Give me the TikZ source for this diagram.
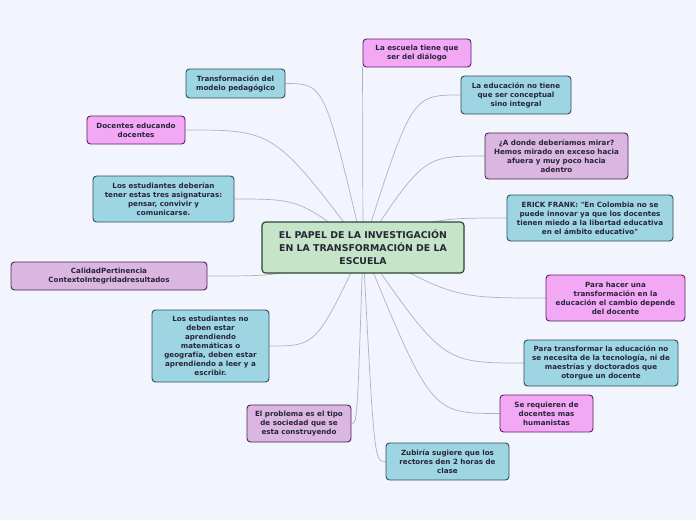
\documentclass[tikz,border=0pt]{standalone}
\usepackage{fontspec}
\newfontfamily\mapfont{DejaVu Sans}
\usetikzlibrary{backgrounds,calc}
\definecolor{pagebg}{HTML}{F2F5FD}
\definecolor{bluefill}{HTML}{9ED5E2}
\definecolor{blueline}{HTML}{2F4F5C}
\definecolor{pinkfill}{HTML}{F3A8F6}
\definecolor{pinkline}{HTML}{5E1F62}
\definecolor{lilacfill}{HTML}{DAB6E0}
\definecolor{lilacline}{HTML}{4A2552}
\definecolor{rootfill}{HTML}{C6E5C8}
\definecolor{rootline}{HTML}{2C442E}
\definecolor{linkgray}{HTML}{B2B2BC}
\definecolor{inkdark}{HTML}{262638}
\newlength\pxu
\setlength\pxu{0.03cm}
\begin{document}
\begin{tikzpicture}[x=0.03cm,y=-0.03cm,
  every node/.style={font=\mapfont\bfseries\fontsize{6.1}{7.7}\selectfont,text=inkdark,align=center,inner sep=1pt},
  topic/.style={draw,line width=0.8pt,rounded corners=3pt},
  bluebox/.style={topic,fill=bluefill,draw=blueline},
  pinkbox/.style={topic,fill=pinkfill,draw=pinkline},
  lilacbox/.style={topic,fill=lilacfill,draw=lilacline},
  link/.style={draw=linkgray,line width=0.6pt}]
\node[topic,fill=rootfill,draw=rootline,line width=1pt,minimum width=202\pxu,minimum height=51\pxu,
  font=\mapfont\bfseries\fontsize{8}{11}\selectfont] (root) at (363,247.5)
  {EL PAPEL DE LA INVESTIGACIÓN\\EN LA TRANSFORMACIÓN DE LA\\ESCUELA};
\node[pinkbox,minimum width=108\pxu,minimum height=28\pxu] (escuela) at (417,53) {La escuela tiene que\\ser del diálogo};
\node[bluebox,minimum width=99\pxu,minimum height=29\pxu] (modelo) at (235.5,83.5) {Transformación del\\modelo pedagógico};
\node[bluebox,minimum width=110\pxu,minimum height=38\pxu] (integral) at (516,95) {La educación no tiene\\que ser conceptual\\sino integral};
\node[pinkbox,minimum width=98\pxu,minimum height=28\pxu] (docentes) at (136,130) {Docentes educando\\docentes};
\node[lilacbox,minimum width=143\pxu,minimum height=46\pxu] (mirar) at (556.5,156) {¿A donde deberíamos mirar?\\Hemos mirado en exceso hacia\\afuera y muy poco hacia\\adentro};
\node[bluebox,minimum width=141\pxu,minimum height=46\pxu] (asignaturas) at (163.5,199) {Los estudiantes deberían\\tener estas tres asignaturas:\\pensar, convivir y\\comunicarse.};
\node[bluebox,minimum width=166\pxu,minimum height=46\pxu] (erick) at (590,218) {ERICK FRANK: "En Colombia no se\\puede innovar ya que los docentes\\tienen miedo a la libertad educativa\\en el ámbito educativo"};
\node[lilacbox,minimum width=196\pxu,minimum height=28\pxu] (calidad) at (109,276) {CalidadPertinencia\\ContextoIntegridadresultados};
\node[pinkbox,minimum width=139\pxu,minimum height=46\pxu] (cambio) at (615.5,298) {Para hacer una\\transformación en la\\educación el cambio depende\\del docente};
\node[bluebox,minimum width=117\pxu,minimum height=72\pxu] (leer) at (210.5,346) {Los estudiantes no\\deben estar\\aprendiendo\\matemáticas o\\geografía, deben estar\\aprendiendo a leer y a\\escribir.};
\node[bluebox,minimum width=154\pxu,minimum height=46\pxu] (tecnologia) at (601,363) {Para transformar la educación no\\se necesita de la tecnología, ni de\\maestrías y doctorados que\\otorgue un docente};
\node[pinkbox,minimum width=93\pxu,minimum height=37\pxu] (humanistas) at (546.5,413.5) {Se requieren de\\docentes mas\\humanistas};
\node[lilacbox,minimum width=104\pxu,minimum height=37\pxu] (sociedad) at (299,423.5) {El problema es el tipo\\de sociedad que se\\esta construyendo};
\node[bluebox,minimum width=123\pxu,minimum height=37\pxu] (zubiria) at (447.5,461.5) {Zubiría sugiere que los\\rectores den 2 horas de\\clase};
\begin{scope}[on background layer]
\fill[pagebg] (0,0) rectangle (696,520);
\draw[link] (root.center) -- (escuela.south west);
\draw[link] (root.center) .. controls ($(root.center |- modelo.east)!0.5!(modelo.east)$) .. (modelo.east);
\draw[link] (root.center) .. controls ($(root.center |- integral.west)!0.5!(integral.west)$) .. (integral.west);
\draw[link] (root.center) .. controls ($(root.center |- docentes.east)!0.5!(docentes.east)$) .. (docentes.east);
\draw[link] (root.center) .. controls ($(root.center |- mirar.west)!0.5!(mirar.west)$) .. (mirar.west);
\draw[link] (root.center) .. controls ($(root.center |- asignaturas.east)!0.5!(asignaturas.east)$) .. (asignaturas.east);
\draw[link] (root.center) .. controls ($(root.center |- erick.west)!0.5!(erick.west)$) .. (erick.west);
\draw[link] (root.center) .. controls ($(root.center |- calidad.east)!0.5!(calidad.east)$) .. (calidad.east);
\draw[link] (root.center) .. controls ($(root.center |- cambio.west)!0.5!(cambio.west)$) .. (cambio.west);
\draw[link] (root.center) .. controls ($(root.center |- leer.east)!0.5!(leer.east)$) .. (leer.east);
\draw[link] (root.center) .. controls ($(root.center |- tecnologia.west)!0.5!(tecnologia.west)$) .. (tecnologia.west);
\draw[link] (root.center) .. controls ($(root.center |- humanistas.west)!0.5!(humanistas.west)$) .. (humanistas.west);
\draw[link] (root.center) .. controls ($(root.center |- sociedad.east)!0.5!(sociedad.east)$) .. (sociedad.east);
\draw[link] (root.center) .. controls ($(root.center |- zubiria.west)!0.5!(zubiria.west)$) .. (zubiria.west);
\end{scope}
\end{tikzpicture}
\end{document}
